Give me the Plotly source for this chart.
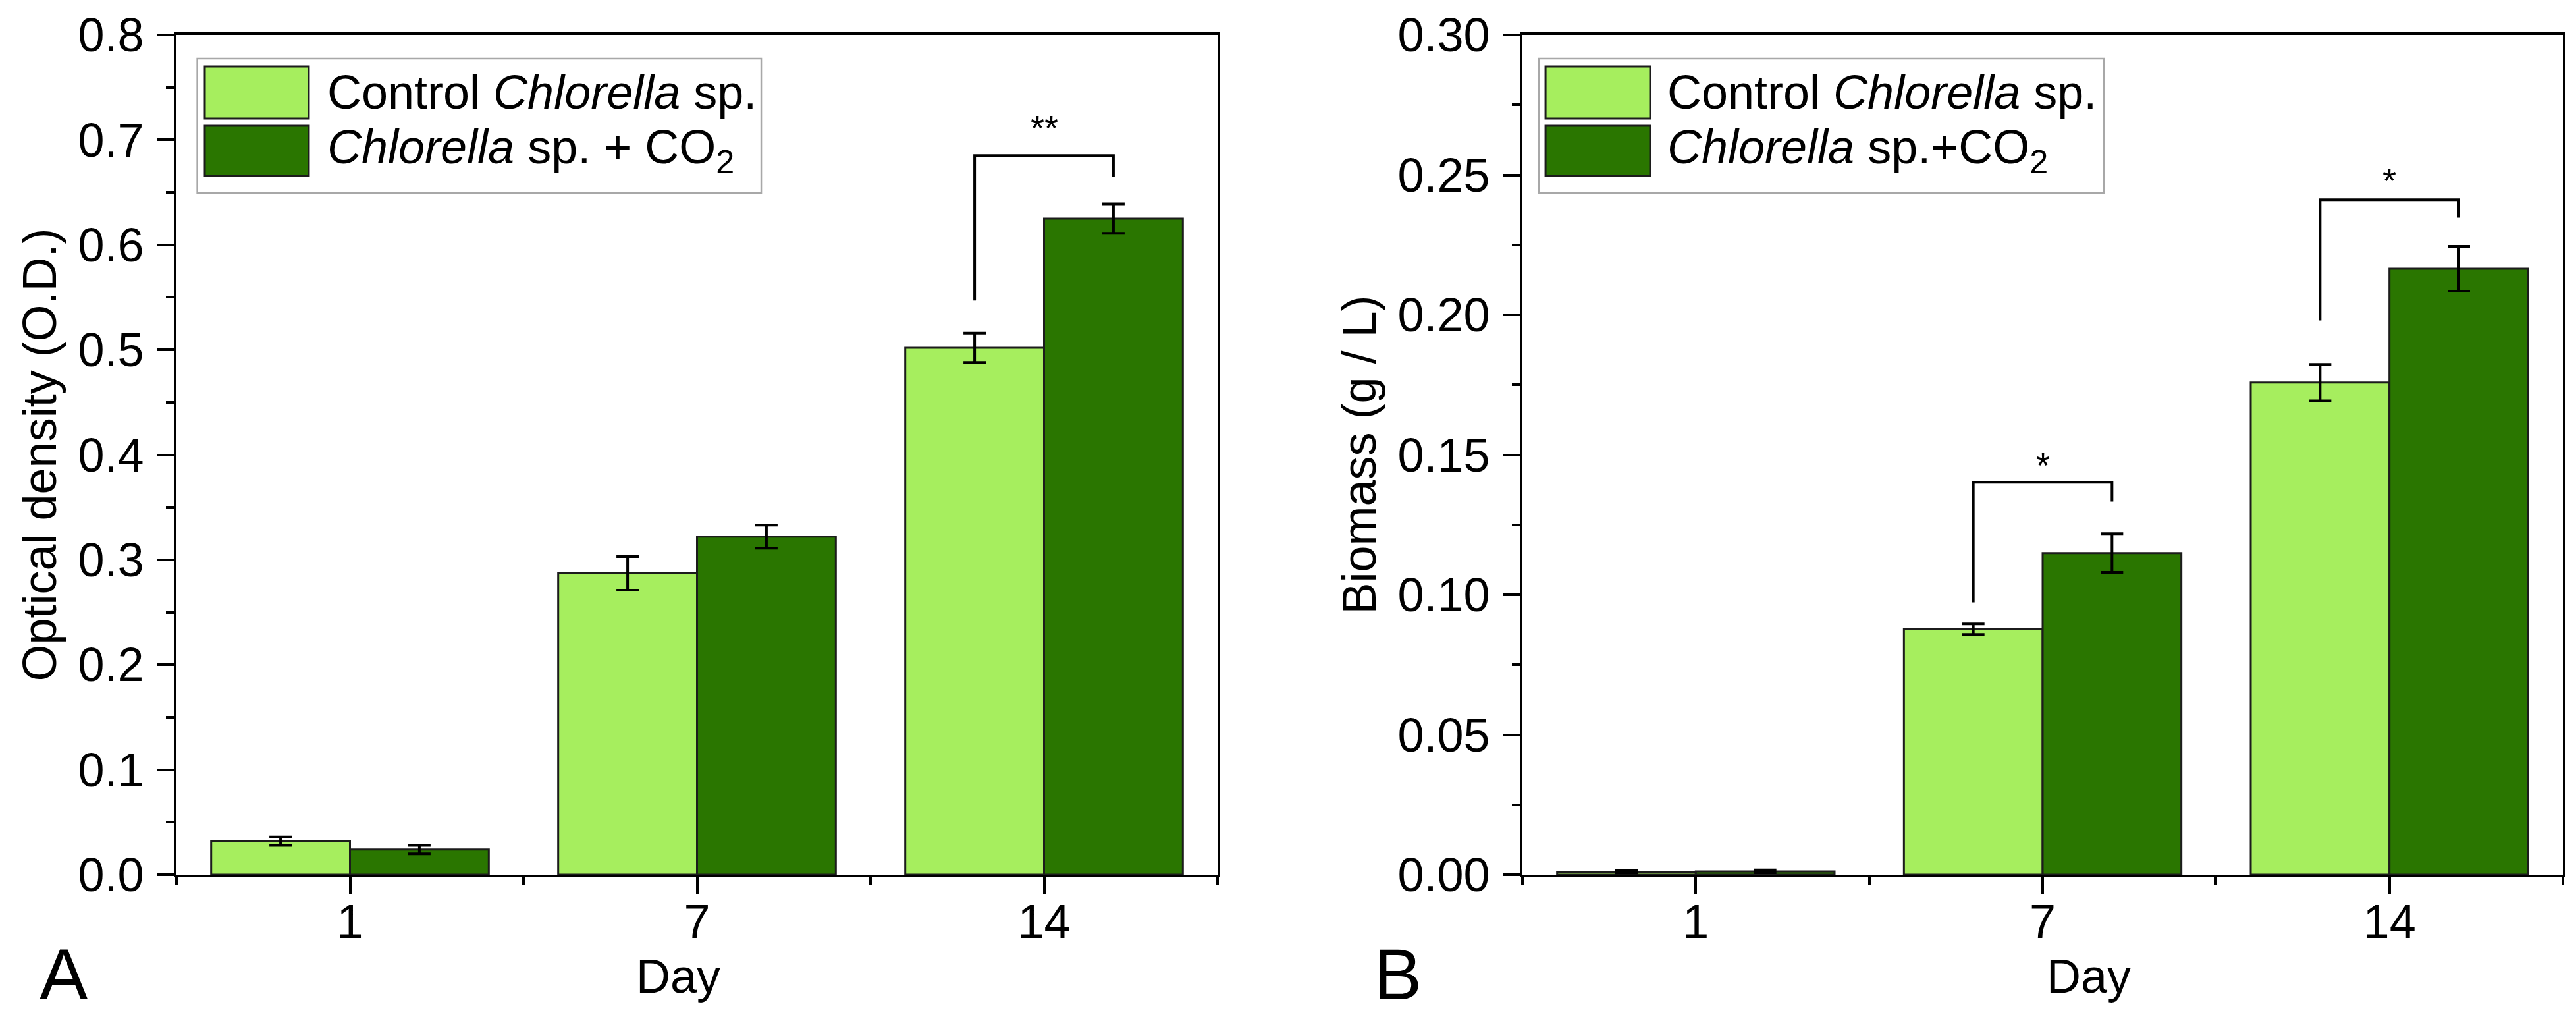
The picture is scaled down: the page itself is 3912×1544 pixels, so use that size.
import plotly.graph_objects as go

# ---------------- data ----------------
days = ["1", "7", "14"]

legend_a = ["Control <i>Chlorella</i> sp.", "<i>Chlorella</i> sp. + CO<sub>2</sub>"]
legend_b = ["Control <i>Chlorella</i> sp.", "<i>Chlorella</i> sp.+CO<sub>2</sub>"]

od_control = [0.032, 0.287, 0.502]
od_control_err = [0.004, 0.016, 0.014]
od_co2 = [0.024, 0.322, 0.625]
od_co2_err = [0.004, 0.011, 0.014]

bio_control = [0.0010, 0.0877, 0.1758]
bio_control_err = [0.0004, 0.0019, 0.0065]
bio_co2 = [0.0012, 0.1149, 0.2165]
bio_co2_err = [0.0005, 0.0069, 0.0080]

# significance brackets
od_sig_day = [2]
od_sig_left = [0.547]
od_sig_top = [0.685]
od_sig_right = [0.665]
od_sig_text_y = [0.718]
od_sig_label = ["**"]

bio_sig_day = [1, 2]
bio_sig_left = [0.0973, 0.1980]
bio_sig_top = [0.1402, 0.2411]
bio_sig_right = [0.1333, 0.2347]
bio_sig_text_y = [0.1488, 0.2504]
bio_sig_label = ["*", "*"]

# ---------------- style ----------------
LIGHT = "#A6EE5E"
DARK = "#2A7600"
OUTLINE = "#1c1c1c"
FONT = "Arial, Liberation Sans, sans-serif"
FS = 72
W, H = 3912, 1544

xpos = list(range(len(days)))

fig = go.Figure()

def add_bars(xa, ya, ctrl, cerr, co2, oerr):
    for vals, errs, col in ((ctrl, cerr, LIGHT), (co2, oerr, DARK)):
        fig.add_trace(go.Bar(
            x=xpos, y=vals, xaxis=xa, yaxis=ya,
            marker=dict(color=col, line=dict(color=OUTLINE, width=3)),
            error_y=dict(type="data", array=errs, color="black", thickness=4, width=17),
            showlegend=False, hoverinfo="y",
        ))

add_bars("x", "y", od_control, od_control_err, od_co2, od_co2_err)
add_bars("x2", "y2", bio_control, bio_control_err, bio_co2, bio_co2_err)

shapes = []
annotations = []

def add_sig(xr, yr, days_i, left, top, right, ty, labels):
    for d, l, t, r, y, lab in zip(days_i, left, top, right, ty, labels):
        x0, x1 = d - 0.2, d + 0.2
        shapes.append(dict(type="path", xref=xr, yref=yr,
                           path=f"M {x0},{l} L {x0},{t} L {x1},{t} L {x1},{r}",
                           line=dict(color="black", width=4)))
        annotations.append(dict(x=d, y=y, xref=xr, yref=yr, text=lab, showarrow=False,
                                font=dict(family=FONT, size=54, color="black"),
                                xanchor="center", yanchor="middle", yshift=-10))

add_sig("x", "y", od_sig_day, od_sig_left, od_sig_top, od_sig_right, od_sig_text_y, od_sig_label)
add_sig("x2", "y2", bio_sig_day, bio_sig_left, bio_sig_top, bio_sig_right, bio_sig_text_y, bio_sig_label)

def add_legend(xr, yr, box_x0, box_x1, sw_x0, sw_x1, txt_x, names):
    shapes.append(dict(type="rect", xref=xr, yref=yr, x0=box_x0, x1=box_x1, y0=0.8118, y1=0.9718,
                       line=dict(color="#A8A8A8", width=2.5), fillcolor="white", layer="above"))
    rows = [(0.9004, 0.9624, LIGHT), (0.8322, 0.8918, DARK)]
    for (y0, y1, col), name in zip(rows, names):
        shapes.append(dict(type="rect", xref=xr, yref=yr, x0=sw_x0, x1=sw_x1, y0=y0, y1=y1,
                           line=dict(color=OUTLINE, width=3), fillcolor=col, layer="above"))
        annotations.append(dict(x=txt_x, y=(y0 + y1) / 2, xref=xr, yref=yr, text=name,
                                showarrow=False, xanchor="left", yanchor="middle",
                                font=dict(family=FONT, size=FS, color="black")))

add_legend("x domain", "y domain", 0.020, 0.5617, 0.0272, 0.1271, 0.1436, legend_a)
add_legend("x2 domain", "y2 domain", 0.0158, 0.5589, 0.0222, 0.1228, 0.138, legend_b)

# panel letters and x-axis titles
for lab, px in (("A", 97), ("B", 2122)):
    annotations.append(dict(x=px / W, y=1 - 1478 / H, xref="paper", yref="paper", text=lab,
                            showarrow=False, xanchor="center", yanchor="middle",
                            font=dict(family=FONT, size=110, color="black")))
for px in (1030, 3172):
    annotations.append(dict(x=px / W, y=1 - 1482 / H, xref="paper", yref="paper", text="Day",
                            showarrow=False, xanchor="center", yanchor="middle",
                            font=dict(family=FONT, size=FS, color="black")))

ydom = [1 - 1328 / H, 1 - 53 / H]

def xaxis_cfg(dom, anchor):
    return dict(domain=dom, anchor=anchor, range=[-0.5, 2.5], tickmode="array",
                tickvals=xpos, ticktext=days, automargin=False,
                showline=True, linecolor="black", linewidth=4, mirror=True,
                ticks="outside", ticklen=25, tickwidth=4, tickcolor="black",
                ticklabelstandoff=-19,
                minor=dict(ticks="outside", ticklen=12, tickwidth=4, tickcolor="black",
                           tick0=-0.5, dtick=1),
                showgrid=False, zeroline=False,
                tickfont=dict(family=FONT, size=FS, color="black"))

def yaxis_cfg(anchor, rng, dtick, mdtick, fmt, title):
    return dict(domain=ydom, anchor=anchor, range=rng, tickmode="linear", tick0=0, dtick=dtick,
                tickformat=fmt, automargin=False,
                showline=True, linecolor="black", linewidth=4, mirror=True,
                ticks="outside", ticklen=25, tickwidth=4, tickcolor="black",
                ticklabelstandoff=6,
                minor=dict(ticks="outside", ticklen=12, tickwidth=4, tickcolor="black",
                           dtick=mdtick, tick0=0),
                showgrid=False, zeroline=False,
                tickfont=dict(family=FONT, size=FS, color="black"),
                title=dict(text=title, font=dict(family=FONT, size=FS, color="black"), standoff=10))

fig.update_layout(
    template="none",
    width=W, height=H, autosize=False,
    margin=dict(l=0, r=0, t=0, b=0, pad=0),
    paper_bgcolor="white", plot_bgcolor="white",
    barmode="group", bargap=0.2, bargroupgap=0,
    font=dict(family=FONT, color="black", size=FS),
    xaxis=xaxis_cfg([268 / W, 1849 / W], "y"),
    yaxis=yaxis_cfg("x", [0, 0.8], 0.1, 0.05, ".1f", "Optical density (O.D.)"),
    xaxis2=xaxis_cfg([2312 / W, 3892 / W], "y2"),
    yaxis2=yaxis_cfg("x2", [0, 0.30], 0.05, 0.025, ".2f", "Biomass (g / L)"),
    shapes=shapes,
    annotations=annotations,
    showlegend=False,
)

fig.write_html("out.html", config={"displayModeBar": False},
               post_script="document.body.style.margin='0';document.body.style.overflow='hidden';")
